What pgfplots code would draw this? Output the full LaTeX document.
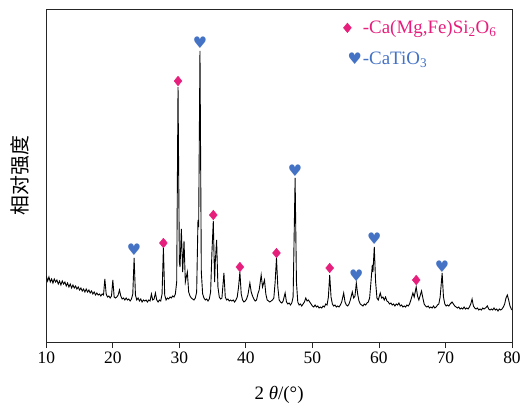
\documentclass[border=0pt]{standalone}
\usepackage{fontspec}
\setmainfont{Liberation Serif}
\newfontfamily\cjk{Noto Sans CJK SC}
\newfontfamily\dejavu{DejaVu Sans}
\usepackage{pgfplots}
\pgfplotsset{compat=1.18}
\pgfplotsset{my leg/.style={legend image code/.code={\path[draw=none, fill=none] (-5bp,-1bp) rectangle (-4bp,1bp); \draw[##1] plot coordinates {(0bp,0bp)};}}}

\definecolor{ctpink}{RGB}{230,30,124}
\definecolor{ctblue}{RGB}{68,114,196}

% XRD pattern (arbitrary intensity units)
\begin{document}
\begin{tikzpicture}
\path[use as bounding box] (-46.3bp,-64bp) rectangle (482.7bp,342bp);
\begin{axis}[
    scale only axis,
    width=465.7bp, height=333bp,
    xmin=10, xmax=80, ymin=0, ymax=333,
    xtick={10,20,...,80},
    ytick=\empty,
    xtick pos=bottom,
    tick align=outside,
    major tick length=6bp,
    axis line style={line width=0.8pt, black!85},
    every tick/.style={black!85, line width=0.8pt},
    /pgf/number format/assume math mode=true,
    xticklabel style={font=\fontsize{17.5}{20}\selectfont},
    xlabel={2 \textit{θ}/(°)},
    xlabel style={font=\fontsize{19}{22}\selectfont, at={(axis description cs:0.5,0)}, anchor=center, yshift=-53bp},
    ylabel={\cjk 相对强度},
    ylabel style={font=\fontsize{20}{22}\selectfont, at={(axis description cs:-0.056,0.5)}, anchor=center, rotate=0},
    legend style={at={(rel axis cs:0.629,0.975)}, anchor=north west, draw=none, fill=none,
        font=\fontsize{19}{22}\selectfont, row sep=15bp, nodes={inner xsep=1bp, inner ysep=1bp}},
    legend cell align=left,
]
\addplot[black, line width=0.9pt, forget plot] coordinates {
(10.0,66) (10.2,61) (10.4,65) (10.6,60) (10.8,63) (11.0,59) (11.2,63) (11.4,60) (11.6,62) (11.8,58)
(12.0,61) (12.2,57) (12.4,61) (12.6,58) (12.8,60) (13.0,56) (13.2,59) (13.4,55) (13.6,58) (13.8,54)
(14.0,57) (14.2,54) (14.4,56) (14.6,53) (14.8,55) (15.0,52) (15.2,54) (15.4,51) (15.6,53) (15.8,50)
(16.0,53) (16.2,50) (16.4,52) (16.6,49) (16.8,51) (17.0,48) (17.2,50) (17.4,47) (17.6,49) (17.8,47)
(18.0,48) (18.2,46) (18.4,48) (18.6,47) (18.8,63) (19.0,48) (19.2,45) (19.4,46) (19.6,44) (19.8,46)
(20.0,62) (20.2,45) (20.4,44) (20.6,45) (20.8,47) (21.0,52) (21.2,46) (21.4,43) (21.6,44) (21.8,42)
(22.0,44) (22.2,42) (22.4,43) (22.6,41) (22.8,43) (23.0,48) (23.2,84) (23.4,47) (23.6,42) (23.8,44)
(24.0,41) (24.2,43) (24.4,40) (24.6,42) (24.8,41) (25.0,42) (25.2,40) (25.4,42) (25.6,41) (25.8,48)
(26.0,42) (26.2,43) (26.4,49) (26.6,42) (26.8,40) (27.0,42) (27.2,41) (27.4,48) (27.6,94) (27.8,47)
(28.0,42) (28.2,44) (28.4,43) (28.6,45) (28.8,44) (29.0,46) (29.2,45) (29.4,48) (29.6,60) (29.8,255)
(30.0,80) (30.1,75) (30.3,113) (30.5,70) (30.7,101) (30.9,60) (31.2,70) (31.4,50) (31.6,46) (31.8,44)
(32.0,43) (32.2,42) (32.4,44) (32.6,50) (32.8,122) (32.9,115) (33.1,291) (33.3,70) (33.5,48) (33.7,44)
(33.9,42) (34.1,43) (34.3,41) (34.5,43) (34.7,50) (34.9,90) (35.1,121) (35.3,60) (35.4,80) (35.6,102)
(35.8,55) (36.0,45) (36.2,43) (36.4,44) (36.7,69) (36.9,45) (37.1,42) (37.3,43) (37.5,41) (37.7,42)
(37.9,41) (38.1,42) (38.3,40) (38.5,42) (38.7,45) (38.9,55) (39.1,70) (39.3,48) (39.5,42) (39.7,40)
(39.9,41) (40.1,43) (40.3,47) (40.6,59) (40.8,50) (41.0,46) (41.2,43) (41.4,41) (41.6,42) (41.8,48)
(42.0,52) (42.3,67) (42.5,55) (42.8,62) (43.0,48) (43.2,42) (43.4,41) (43.6,40) (43.8,41) (44.0,42)
(44.2,44) (44.4,60) (44.6,84) (44.8,55) (45.0,42) (45.2,40) (45.4,39) (45.6,41) (45.9,49) (46.1,40)
(46.3,38) (46.5,39) (46.7,37) (46.9,39) (47.1,45) (47.4,164) (47.6,60) (47.8,40) (48.0,37) (48.2,38)
(48.4,36) (48.6,38) (48.8,40) (49.0,44) (49.2,41) (49.4,42) (49.6,40) (49.8,38) (50.0,36) (50.2,35)
(50.4,37) (50.6,35) (50.8,36) (51.0,34) (51.2,35) (51.4,34) (51.6,36) (51.8,35) (52.0,38) (52.2,37)
(52.4,45) (52.6,67) (52.8,45) (53.0,38) (53.2,36) (53.4,37) (53.6,35) (53.8,36) (54.0,35) (54.2,37)
(54.4,40) (54.7,49) (54.9,40) (55.1,37) (55.3,36) (55.5,38) (55.7,42) (56.0,50) (56.2,44) (56.4,46)
(56.6,59) (56.8,48) (57.0,41) (57.2,38) (57.4,37) (57.6,36) (57.8,38) (58.0,37) (58.2,39) (58.4,40)
(58.6,44) (58.8,60) (59.0,77) (59.1,70) (59.3,95) (59.5,60) (59.7,44) (59.9,42) (60.2,49) (60.4,44)
(60.6,45) (60.8,42) (61.0,45) (61.2,41) (61.4,40) (61.6,38) (61.8,39) (62.0,37) (62.2,38) (62.4,36)
(62.6,38) (62.8,37) (63.0,39) (63.2,36) (63.4,37) (63.6,35) (63.8,36) (64.0,35) (64.2,37) (64.4,36)
(64.6,38) (64.8,42) (65.1,49) (65.3,45) (65.6,55) (65.8,46) (66.0,42) (66.4,51) (66.6,44) (66.8,38)
(67.0,36) (67.2,35) (67.4,36) (67.6,34) (67.8,35) (68.0,34) (68.2,36) (68.4,34) (68.6,35) (68.8,37)
(69.0,38) (69.2,45) (69.5,69) (69.7,45) (69.9,38) (70.1,36) (70.3,37) (70.5,36) (70.7,38) (71.0,40)
(71.2,38) (71.4,36) (71.6,35) (71.8,34) (72.0,35) (72.2,33) (72.4,34) (72.6,33) (72.8,35) (73.0,33)
(73.2,34) (73.4,33) (73.6,35) (73.8,38) (74.0,43) (74.2,36) (74.4,34) (74.6,33) (74.8,34) (75.0,32)
(75.2,33) (75.4,32) (75.6,34) (75.8,33) (76.0,34) (76.3,36) (76.5,33) (76.7,32) (76.9,33) (77.1,32)
(77.3,34) (77.5,32) (77.7,33) (77.9,31) (78.1,33) (78.3,32) (78.5,33) (78.7,35) (78.9,38) (79.1,44)
(79.3,47) (79.5,42) (79.7,36) (79.9,33) (80.0,32)
};
% Ca(Mg,Fe)Si2O6 markers
\addplot[only marks, mark=diamond*, mark size=4.8bp, ctpink,
    mark options={xscale=1.1, draw=ctpink, fill=ctpink}, my leg] coordinates {
(27.6,99) (29.8,261) (35.1,127) (39.1,75) (44.6,89) (52.6,74) (65.6,62)
};
\addlegendentry{\textcolor{ctpink}{-Ca(Mg,Fe)Si\textsubscript{2}O\textsubscript{6}}}
% CaTiO3 markers
\addplot[only marks, mark=text, text mark={\dejavu ♥}, text mark as node=true,
    text mark style={text=ctblue, font=\fontsize{16}{16}\selectfont, inner sep=0pt}, my leg] coordinates {
(23.2,92) (33.1,299) (47.4,171) (56.6,66) (59.3,103) (69.5,75)
};
\addlegendentry{\textcolor{ctblue}{-CaTiO\textsubscript{3}}}
\end{axis}
\end{tikzpicture}
\end{document}
